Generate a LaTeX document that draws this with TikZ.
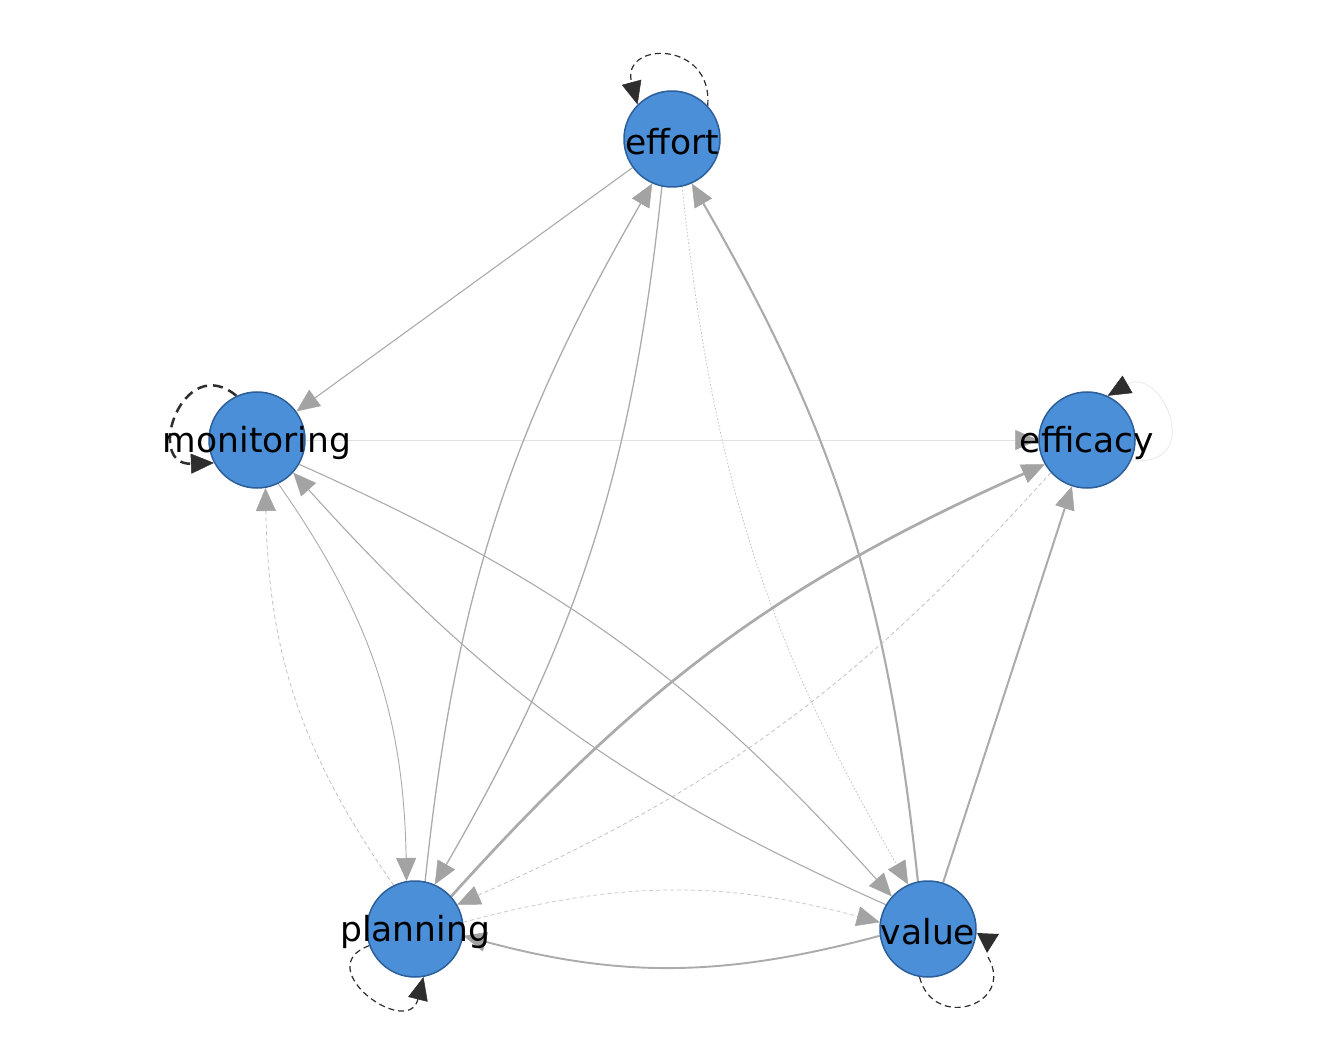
\documentclass[tikz,border=0pt]{standalone}
\usepackage{fontspec}
\setmainfont{DejaVu Sans}
\usetikzlibrary{arrows.meta}
\definecolor{nodefill}{HTML}{4A8FD8}
\definecolor{nodeline}{HTML}{2C5F9A}
\definecolor{edgegray}{HTML}{ABABAB}
\definecolor{lightedge}{HTML}{C2C2C2}
\definecolor{faintedge}{HTML}{E2E2E2}
\definecolor{tipgray}{HTML}{A3A3A3}
\definecolor{loopdark}{HTML}{2E2E2E}
\definecolor{loopfaint}{HTML}{E6E6E6}
\pgfdeclarelayer{bg}
\pgfsetlayers{bg,main}
\tikzset{
  vnode/.style={circle, fill=nodefill, draw=nodeline, line width=1.5pt, minimum size=96pt, inner sep=0pt},
  vlabel/.style={font=\fontsize{34.5}{40}\selectfont, text=black, inner sep=0pt, yshift=-3pt},
  gedge/.style={draw=edgegray, line width=1.1pt, -{Triangle[length=23pt,width=20pt,line width=0.5pt,color=tipgray]}},
  dashedge/.style={gedge, draw=lightedge, line width=0.8pt, dash pattern=on 4pt off 3pt},
  dotedge/.style={gedge, draw=lightedge, line width=0.8pt, dash pattern=on 1.5pt off 2pt},
  lp/.style={draw=loopdark, line width=1.2pt, dash pattern=on 6pt off 4pt, -{Triangle[length=23pt,width=20pt,line width=0.5pt,color=loopdark]}},
}
\begin{document}
\begin{tikzpicture}[x=1pt,y=1pt]
\useasboundingbox (0,0) rectangle (1344,-1056);
\begin{pgfonlayer}{bg}
\fill[white] (0,0) rectangle (1344,-1056);
\end{pgfonlayer}
% nodes
\node[vnode] (e)  at (672,-139) {};
\node[vnode] (m)  at (257,-440) {};
\node[vnode] (ef) at (1087,-440) {};
\node[vnode] (p)  at (415,-929) {};
\node[vnode] (v)  at (928,-929) {};
\coordinate (vl) at (988,-957);
\begin{pgfonlayer}{bg}
% straight edges
\draw[gedge] (e) -- (m);
\draw[gedge, draw=faintedge, line width=0.6pt] (m) -- (ef);
\draw[gedge, line width=2pt] (v) -- (ef);
% effort - planning
\draw[gedge, line width=1.3pt] (p.78) to[out=84, in=240] (e.246);
\draw[gedge, line width=1.3pt] (e.258) to[out=264, in=60] (p.66);
% effort - value
\draw[dotedge] (e.282) to[out=276, in=120] (v.114);
\draw[gedge, line width=2.1pt] (v.102) to[out=96, in=300] (e.294);
% planning - efficacy
\draw[gedge, line width=2.7pt] (p.42) to[out=48, in=204] (ef.210);
\draw[dashedge] (ef.222) to[out=228, in=24] (p.30);
% monitoring - value
\draw[gedge] (m.330) to[out=336, in=132] (v.138);
\draw[gedge, line width=1.1pt] (v.150) to[out=156, in=312] (m.318);
% monitoring - planning
\draw[gedge, line width=0.9pt] (m.296) to[out=305, in=91] (p.100);
\draw[dashedge] (p.116) to[out=125, in=271] (m.280);
% planning - value
\draw[dashedge, draw=lightedge!85] (p.8) to[out=15, in=165] (v.172);
\draw[gedge, line width=1.9pt] (v.188) to[out=195, in=345] (p.352);
% self loops
\draw[lp] (e.43) .. controls +(85:66) and +(105:66) .. (e.135);
\draw[lp, line width=2.5pt, dash pattern=on 10pt off 6pt] (m.115) .. controls +(140:70) and +(182:70) .. (m.208);
\draw[lp, draw=loopfaint, line width=0.7pt, solid] (ef.335) .. controls +(355:76) and +(30:62) .. (ef.65);
\draw[lp] (p.200) .. controls +(200:64) and +(256:64) .. (p.280);
\draw[lp, -] (v.260) .. controls +(284:56) and +(300:56) .. (vl);
\fill[loopdark] (977,-933) -- (999,-934) -- (987,-953) -- cycle;
\end{pgfonlayer}
% labels
\node[vlabel] (eT)  at (e)  {effort};
\node[vlabel] (mT)  at (m)  {monitoring};
\node[vlabel] (efT) at (ef) {efficacy};
\node[vlabel] (pT)  at (p)  {planning};
\node[vlabel] (vT)  at (v)  {value};
\end{tikzpicture}
\end{document}
